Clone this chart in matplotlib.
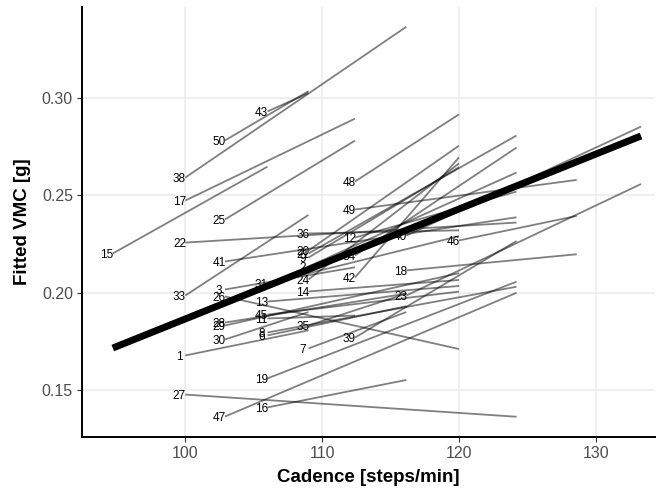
import matplotlib
matplotlib.use("Agg")
import matplotlib.pyplot as plt

# subject lines: id, start cadence, start VMC, end cadence, end VMC
subj = [43, 50, 38, 17, 15, 25, 48, 33, 41, 22, 47, 19, 16, 27,
        26, 46, 40, 18, 23, 49, 12, 36, 20, 21, 9, 2, 34, 24, 42,
        31, 3, 14, 13, 45, 11, 28, 29, 8, 6, 30, 1, 35, 7, 39]
x_start = [106.0, 102.9, 100.0, 100.0, 94.7, 102.9, 112.4, 100.0, 102.9, 100.0, 102.9, 106.0, 106.0, 100.0,
           102.9, 120.0, 116.15, 116.15, 116.15, 112.4, 112.4, 109.0, 109.0, 109.0, 109.0, 109.0, 112.4, 109.0, 112.4,
           106.0, 102.9, 109.0, 106.0, 106.0, 106.0, 102.9, 102.9, 106.0, 106.0, 102.9, 100.0, 109.0, 109.0, 112.4]
y_start = [0.2931, 0.2782, 0.2591, 0.2473, 0.2201, 0.2376, 0.2571, 0.1985, 0.2160, 0.2257, 0.1363, 0.1559, 0.1410, 0.1476,
           0.1980, 0.2268, 0.2293, 0.2114, 0.1985, 0.2427, 0.2283, 0.2304, 0.2216, 0.2201, 0.2180, 0.2134, 0.2191, 0.2067, 0.2078,
           0.2047, 0.2016, 0.2006, 0.1954, 0.1887, 0.1867, 0.1846, 0.1831, 0.1795, 0.1780, 0.1759, 0.1677, 0.1831, 0.1713, 0.1769]
x_end = [109.0, 109.0, 116.15, 112.4, 106.0, 112.4, 120.0, 109.0, 124.2, 124.2, 124.2, 124.2, 116.15, 124.2,
         120.0, 128.6, 133.3, 128.6, 133.3, 128.6, 124.2, 120.0, 120.0, 124.2, 120.0, 124.2, 124.2, 120.0, 120.0,
         120.0, 112.4, 120.0, 120.0, 120.0, 112.4, 116.15, 120.0, 124.2, 116.15, 109.0, 109.0, 116.15, 116.15, 124.2]
y_end = [0.3025, 0.3035, 0.3366, 0.2894, 0.2647, 0.2781, 0.2916, 0.2399, 0.2387, 0.2360, 0.1999, 0.2056, 0.1551, 0.1362,
         0.1710, 0.2394, 0.2853, 0.2197, 0.2558, 0.2579, 0.2519, 0.2320, 0.2755, 0.2807, 0.2644, 0.2617, 0.2745, 0.2664, 0.2695,
         0.2290, 0.2130, 0.2065, 0.2034, 0.2005, 0.1882, 0.1995, 0.2100, 0.2030, 0.1930, 0.1900, 0.1806, 0.1995, 0.1900, 0.2265]

# population fit
fit_x = [94.7, 133.3]
fit_y = [0.1715, 0.2805]

fig = plt.figure(figsize=(6.6, 4.94), dpi=100)
ax = fig.add_axes([0.1242, 0.1154, 0.8678, 0.8706])

for i in range(len(subj)):
    ax.plot([x_start[i], x_end[i]], [y_start[i], y_end[i]], color="black", alpha=0.5, lw=1.3,
            solid_capstyle="butt", zorder=2)
    ax.annotate(str(subj[i]), (x_start[i], y_start[i]), xytext=(-4.2, -1.1), textcoords="offset points",
                ha="center", va="center", fontsize=8.5, family="Liberation Sans", zorder=4)

ax.plot(fit_x, fit_y, color="black", lw=5, solid_capstyle="butt", zorder=3)

ax.set_xlim(92.45, 134.3)
ax.set_ylim(0.1258, 0.3468)
ax.set_xticks([100, 110, 120, 130])
ax.set_yticks([0.15, 0.20, 0.25, 0.30])
ax.set_yticklabels(["0.15", "0.20", "0.25", "0.30"])
ax.grid(True, color="#EBEBEB", lw=1.1)
ax.set_axisbelow(True)
for s in ["top", "right"]:
    ax.spines[s].set_visible(False)
for s in ["left", "bottom"]:
    ax.spines[s].set_linewidth(1.4)
    ax.spines[s].set_color("black")
ax.tick_params(length=3.5, width=0.8, color="#333333", labelcolor="#4D4D4D", labelsize=11.5, pad=3)
for lab in ax.get_xticklabels() + ax.get_yticklabels():
    lab.set_family("Liberation Sans")

ax.set_xlabel("Cadence [steps/min]", fontsize=13.5, fontweight="bold", family="Liberation Sans", labelpad=6)
ax.set_ylabel("Fitted VMC [g]", fontsize=13.5, fontweight="bold", family="Liberation Sans", labelpad=8)

fig.savefig("out.png", dpi=100)
